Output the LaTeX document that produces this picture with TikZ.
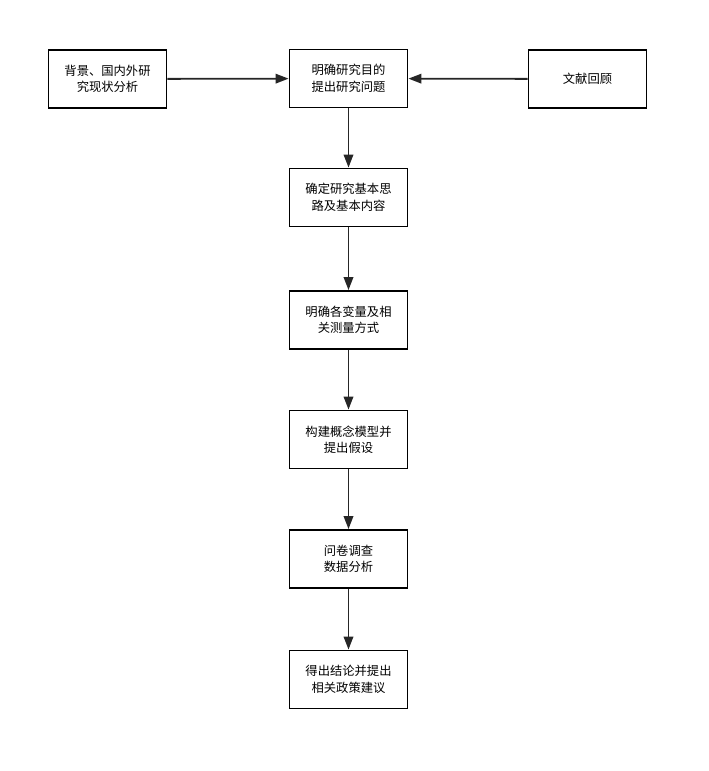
\documentclass[tikz,border=0pt]{standalone}
\usepackage{fontspec}
\newfontfamily\cjk{Noto Sans CJK SC}
\usetikzlibrary{arrows.meta}
\begin{document}
\begin{tikzpicture}[x=1pt,y=-1pt,
  box/.style={draw,line width=1.8pt,minimum width=118pt,minimum height=58pt,align=center,
    font=\cjk\fontsize{12.3}{16.5}\selectfont,inner sep=2pt},
  arr/.style={-{Triangle[length=13pt,width=9.5pt]},line width=1.8pt,draw=black!85}]
  \useasboundingbox (0,0) rectangle (709,771);
  \node[box] (goal) at (348.5,78.5) {明确研究目的\\提出研究问题};
  \node[box] (bg) at (107.5,79) {背景、国内外研\\究现状分析};
  \node[box] (lit) at (587.5,79) {文献回顾};
  \node[box] (idea) at (348.5,197.5) {确定研究基本思\\路及基本内容};
  \node[box] (var) at (348.5,320) {明确各变量及相\\关测量方式};
  \node[box] (model) at (348.5,439.5) {构建概念模型并\\提出假设};
  \node[box] (survey) at (348.5,559) {问卷调查\\数据分析};
  \node[box] (end) at (348.5,679.5) {得出结论并提出\\相关政策建议};
  \draw[arr] (bg) -- (goal);
  \draw[arr] (lit) -- (goal);
  \draw[arr] (goal) -- (idea);
  \draw[arr] (idea) -- (var);
  \draw[arr] (var) -- (model);
  \draw[arr] (model) -- (survey);
  \draw[arr] (survey) -- (end);
\end{tikzpicture}
\end{document}
